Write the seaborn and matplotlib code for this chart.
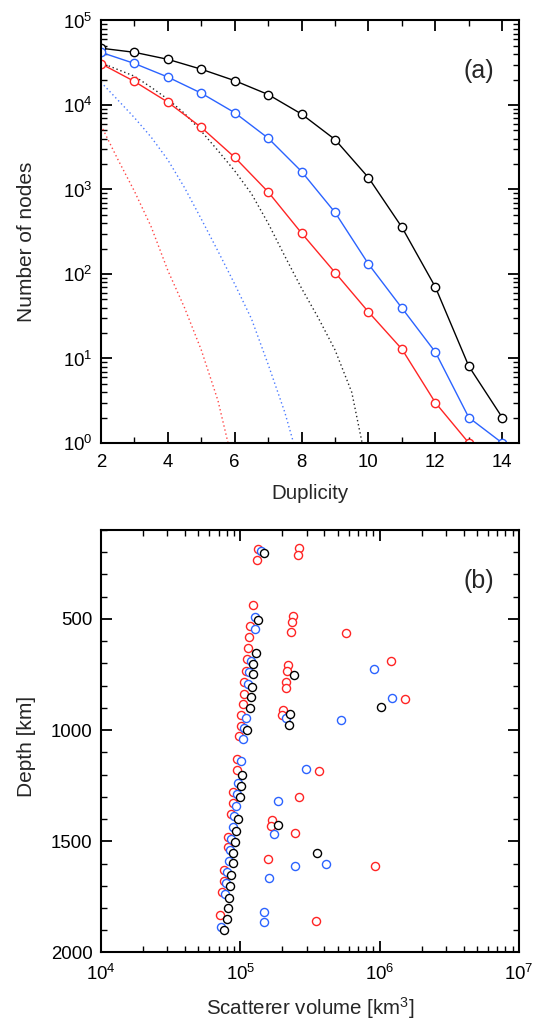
import numpy as np
import pandas as pd
import matplotlib
matplotlib.use("Agg")
import matplotlib.pyplot as plt
import seaborn as sns
from matplotlib.ticker import MultipleLocator, LogLocator, NullFormatter, FixedLocator

# ---------------- Panel (a) data ----------------
duplicity = [2, 3, 4, 5, 6, 7, 8, 9, 10, 11, 12, 13, 14]
nodes_black = [47000, 42000, 34700, 26500, 19400, 13300, 7800, 3900, 1380, 357, 70, 8.1, 2.0]
nodes_blue = [42000, 31000, 21400, 13800, 8100, 4050, 1630, 535, 131, 39.5, 11.9, 2.0, 1.0]
duplicity_red = [2, 3, 4, 5, 6, 7, 8, 9, 10, 11, 12, 13]
nodes_red = [30800, 19000, 10800, 5430, 2400, 935, 304, 104, 35.5, 12.9, 3.0, 1.0]

# expected (dotted) curves
exp_black_x = [2.0, 2.5, 3.0, 3.5, 4.0, 4.5, 5.0, 5.5, 6.0, 6.5, 7.0, 7.5, 8.0, 8.5, 9.0, 9.5, 9.81]
exp_black_y = [31600, 26300, 21900, 16200, 11700, 7940, 4900, 2880, 1660, 891, 398, 162, 67.6, 30.2, 12.6, 3.98, 1.0]
exp_blue_x = [2.0, 2.5, 3.0, 3.5, 4.0, 4.5, 5.0, 5.5, 6.0, 6.5, 7.0, 7.5, 7.76]
exp_blue_y = [18600, 11500, 7080, 4170, 2240, 1050, 447, 186, 75.9, 29.5, 8.5, 2.29, 1.0]
exp_red_x = [2.0, 2.5, 3.0, 3.5, 4.0, 4.5, 5.0, 5.5, 5.8]
exp_red_y = [5750, 2290, 955, 363, 110, 39.8, 12.6, 3.16, 1.0]

# ---------------- Panel (b) data ----------------
red_vol = [1.35e5, 1.32e5, 2.64e5, 2.61e5,
           1.23e5, 1.17e5, 1.16e5, 1.13e5, 1.11e5, 1.09e5, 1.07e5, 1.06e5, 1.04e5, 1.02e5,
           1.01e5, 0.98e5, 0.95e5, 0.94e5, 0.89e5, 0.88e5, 0.86e5, 0.82e5, 0.81e5, 0.77e5,
           0.76e5, 0.74e5, 0.71e5,
           2.37e5, 2.36e5, 2.33e5, 5.78e5, 1.21e6, 2.20e5, 2.18e5, 2.14e5, 2.12e5, 1.53e6,
           2.03e5, 2.00e5, 3.67e5, 2.65e5, 1.69e5, 1.67e5, 2.47e5, 1.58e5, 9.2e5, 3.48e5]
red_depth = [186, 235, 183, 212,
             436, 533, 582, 632, 682, 732, 784, 836, 881, 930,
             982, 1028, 1132, 1180, 1280, 1330, 1378, 1479, 1527, 1629,
             1678, 1726, 1830,
             485, 512, 560, 565, 690, 709, 735, 784, 809, 860,
             908, 934, 1183, 1300, 1404, 1430, 1464, 1579, 1609, 1860]

blue_vol = [1.40e5,
            1.28e5, 1.28e5, 1.19e5, 1.15e5, 1.14e5, 1.09e5, 1.06e5, 1.04e5, 1.01e5, 0.96e5,
            0.94e5, 0.93e5, 0.90e5, 0.89e5, 0.86e5, 0.85e5, 0.83e5, 0.80e5, 0.79e5, 0.78e5, 0.73e5,
            9.1e5, 1.22e6, 2.12e5, 5.3e5, 2.97e5, 1.87e5, 1.74e5, 2.47e5, 4.11e5, 1.62e5, 1.49e5, 1.48e5]
blue_depth = [194,
              493, 545, 690, 739, 791, 944, 989, 1041, 1140, 1240,
              1288, 1340, 1387, 1437, 1491, 1539, 1588, 1636, 1688, 1738, 1887,
              724, 857, 944, 953, 1176, 1318, 1467, 1609, 1602, 1663, 1816, 1865]

black_vol = [1.48e5,
             1.33e5, 1.29e5, 1.24e5, 1.23e5, 1.21e5, 1.19e5, 1.17e5, 1.12e5, 1.03e5, 1.02e5,
             0.995e5, 0.96e5, 0.93e5, 0.92e5, 0.89e5, 0.88e5, 0.86e5, 0.84e5, 0.83e5, 0.81e5,
             0.80e5, 0.77e5,
             2.42e5, 1.03e6, 2.26e5, 2.24e5, 1.88e5, 3.55e5]
black_depth = [204,
               503, 654, 702, 747, 804, 852, 901, 1001, 1203, 1252,
               1300, 1401, 1452, 1502, 1551, 1599, 1651, 1700, 1753, 1800,
               1850, 1901,
               753, 896, 929, 975, 1427, 1551]

RED = "#ff2424"
BLUE = "#2b63ff"
BLACK = "#000000"

sns.set_theme(style="ticks")
plt.rcParams["font.family"] = ["Liberation Sans", "DejaVu Sans"]
plt.rcParams["mathtext.fontset"] = "custom"
plt.rcParams["mathtext.rm"] = "Liberation Sans"
plt.rcParams["mathtext.it"] = "Liberation Sans:italic"
plt.rcParams["mathtext.bf"] = "Liberation Sans:bold"

fig = plt.figure(figsize=(5.37, 10.19), dpi=100)
L, W, H = 0.188, 0.7784, 0.4146
axa = fig.add_axes([L, 0.5653, W, H])
axb = fig.add_axes([L, 0.0653, W, H])


def style_axes(ax):
    for s in ax.spines.values():
        s.set_linewidth(1.5)
        s.set_color("black")
    ax.tick_params(which="both", direction="in", top=True, right=True,
                   colors="black", labelsize=13.4)
    ax.tick_params(which="major", length=7.7, width=1.3)
    ax.tick_params(which="minor", length=4.0, width=1.0)
    ax.tick_params(axis="y", which="both", pad=6)
    ax.tick_params(axis="x", which="both", pad=8)
    ax.grid(False)


# ---- panel (a)
for xs, ys, c in [(exp_black_x, exp_black_y, BLACK),
                  (exp_blue_x, exp_blue_y, BLUE),
                  (exp_red_x, exp_red_y, RED)]:
    sns.lineplot(x=xs, y=ys, ax=axa, color=c, lw=1.0, linestyle=(0, (1, 2)),
                 alpha=0.85, sort=False, estimator=None)

for xs, ys, c in [(duplicity, nodes_black, BLACK),
                  (duplicity, nodes_blue, BLUE),
                  (duplicity_red, nodes_red, RED)]:
    sns.lineplot(x=xs, y=ys, ax=axa, color=c, lw=1.0, marker="o", markersize=6,
                 markerfacecolor="white", markeredgecolor=c, markeredgewidth=1.0,
                 sort=False, estimator=None)

axa.set_yscale("log")
axa.set_ylim(1, 1e5)
axa.set_xlim(2, 14.5)
axa.xaxis.set_major_locator(FixedLocator([2, 4, 6, 8, 10, 12, 14]))
axa.xaxis.set_minor_locator(MultipleLocator(1))
axa.yaxis.set_major_locator(LogLocator(base=10, numticks=10))
axa.yaxis.set_minor_locator(LogLocator(base=10, subs=np.arange(2, 10), numticks=20))
axa.yaxis.set_minor_formatter(NullFormatter())
style_axes(axa)
axa.set_xlabel("Duplicity", fontsize=14.8, labelpad=9)
axa.set_ylabel("Number of nodes", fontsize=15)
axa.yaxis.set_label_coords(-0.1555, 0.475)
axa.text(0.905, 0.88, "(a)", transform=axa.transAxes, fontsize=18, ha="center", va="center")

# ---- panel (b)
for xs, ys, c in [(red_vol, red_depth, RED),
                  (blue_vol, blue_depth, BLUE),
                  (black_vol, black_depth, BLACK)]:
    sns.scatterplot(x=xs, y=ys, ax=axb, s=34, marker="o", facecolor="white",
                    edgecolor=c, linewidth=1.0)

axb.set_xscale("log")
axb.set_xlim(1e4, 1e7)
axb.set_ylim(2000, 100)
axb.yaxis.set_major_locator(FixedLocator([500, 1000, 1500, 2000]))
axb.yaxis.set_minor_locator(MultipleLocator(100))
axb.xaxis.set_major_locator(LogLocator(base=10, numticks=10))
axb.xaxis.set_minor_locator(LogLocator(base=10, subs=np.arange(2, 10), numticks=20))
axb.xaxis.set_minor_formatter(NullFormatter())
style_axes(axb)
axb.set_xlabel("Scatterer volume [km$^3$]", fontsize=14.8, labelpad=8)
axb.set_ylabel("Depth [km]", fontsize=15)
axb.yaxis.set_label_coords(-0.1555, 0.488)
axb.text(0.905, 0.88, "(b)", transform=axb.transAxes, fontsize=18, ha="center", va="center")

fig.savefig("out.png", dpi=100)
